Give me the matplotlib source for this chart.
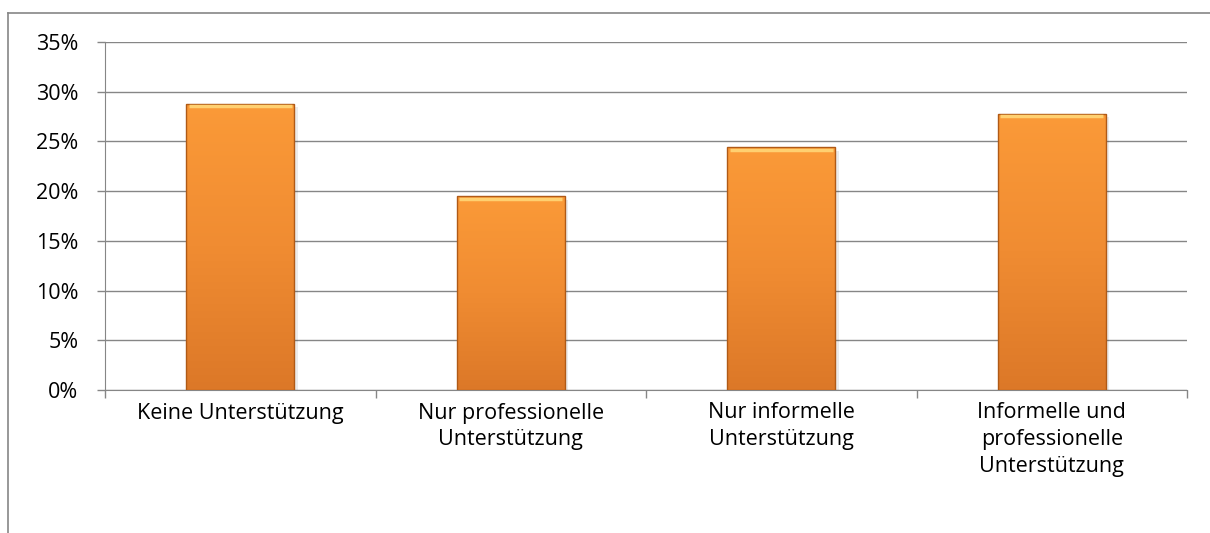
import matplotlib.pyplot as plt
import numpy as np
from matplotlib.colors import LinearSegmentedColormap
from matplotlib.lines import Line2D

categories = ["Keine Unterstützung", "Nur professionelle\nUnterstützung",
              "Nur informelle\nUnterstützung", "Informelle und\nprofessionelle\nUnterstützung"]
values = [28.8, 19.5, 24.4, 27.8]
yticks = [0, 5, 10, 15, 20, 25, 30, 35]

plt.rcParams['font.family'] = ['Open Sans', 'DejaVu Sans']

fig = plt.figure(figsize=(12.10, 5.33), dpi=100)
ax = fig.add_axes([105 / 1210, 1 - 390 / 533, (1187 - 105) / 1210, (390 - 42) / 533])

grey = '#868686'
x = np.arange(len(categories))
width = 0.4

cmap = LinearSegmentedColormap.from_list('bar', ['#dc7828', '#f08c32', '#fb9a38'])
grad = np.linspace(0, 1, 256).reshape(-1, 1)

for xi, v in zip(x, values):
    # soft shadow
    ax.bar(xi + 0.012, v, width, bottom=-0.35, color='#000000', alpha=0.08, zorder=2, linewidth=0)
    bar = ax.bar(xi, v, width, color='none', edgecolor='#b05a16', linewidth=1.0, zorder=4)[0]
    im = ax.imshow(grad, cmap=cmap, aspect='auto', origin='lower',
                   extent=(xi - width / 2, xi + width / 2, 0, v), zorder=3)
    im.set_clip_path(bar)
    # highlight at the top
    ax.plot([xi - width / 2 + 0.01, xi + width / 2 - 0.01], [v - 0.25, v - 0.25],
            color='#ffd070', linewidth=2.5, zorder=5, solid_capstyle='butt')

ax.set_xlim(-0.5, len(categories) - 0.5)
ax.set_ylim(0, 35)

ax.set_yticks(yticks)
ax.set_yticklabels([f"{t}%" for t in yticks])
ax.yaxis.grid(True, color=grey, linewidth=1)
ax.set_axisbelow(True)

# category boundaries as ticks, labels in centers
ax.set_xticks(np.arange(len(categories) + 1) - 0.5)
ax.set_xticklabels([])
ax.set_xticks(x, minor=True)
ax.set_xticklabels(categories, minor=True, fontsize=15.5, linespacing=1.36, va='top')
ax.tick_params(axis='x', which='minor', length=0, pad=9)
ax.tick_params(axis='x', which='major', length=6, color=grey, width=1)
ax.tick_params(axis='y', length=6, color=grey, width=1, labelsize=15.5, pad=13)

for s in ['top', 'right']:
    ax.spines[s].set_visible(False)
ax.spines['left'].set_color(grey)
ax.spines['bottom'].set_color(grey)

# outer chart frame, partly cut off
fig.add_artist(Line2D([8 / 1210, 1], [1 - 13 / 533, 1 - 13 / 533], color=grey, linewidth=1.2,
                      transform=fig.transFigure))
fig.add_artist(Line2D([8 / 1210, 8 / 1210], [0, 1 - 13 / 533], color=grey, linewidth=1.2,
                      transform=fig.transFigure))

plt.savefig("out.png", dpi=100)
